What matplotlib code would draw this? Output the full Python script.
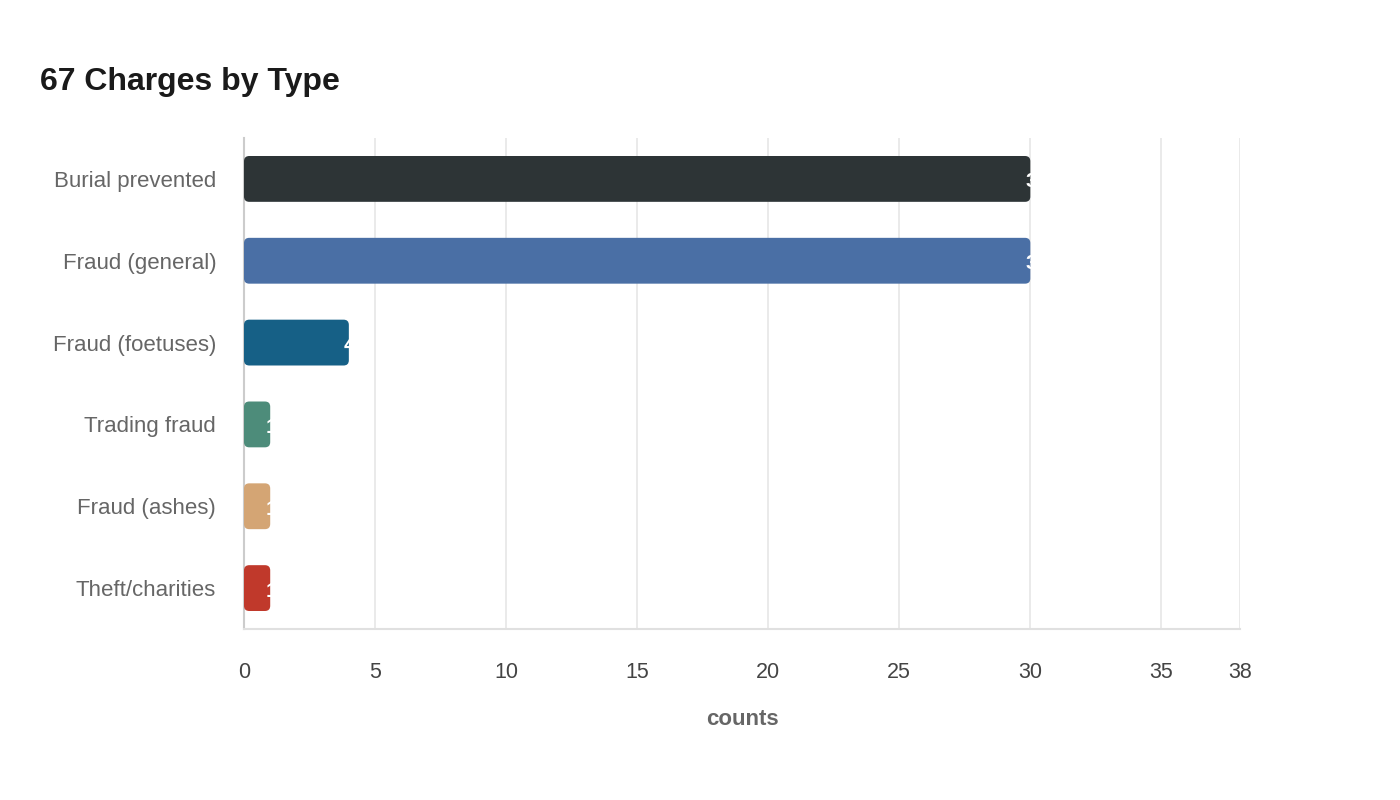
import matplotlib
matplotlib.use('Agg')
import matplotlib.pyplot as plt
from matplotlib.patches import FancyBboxPatch
import matplotlib.transforms as mtransforms

categories = ['Burial prevented', 'Fraud (general)', 'Fraud (foetuses)',
              'Trading fraud', 'Fraud (ashes)', 'Theft/charities']
counts = [30, 30, 4, 1, 1, 1]
colors = ['#2d3436', '#4a6fa5', '#166086', '#4d8c7a', '#d4a574', '#c0392b']
xticks = [0, 5, 10, 15, 20, 25, 30, 35, 38]

plt.rcParams['font.family'] = ['Liberation Sans', 'DejaVu Sans']

fig = plt.figure(figsize=(14, 8), dpi=100)
ax = fig.add_axes([244/1400, 1-629/800, (1240-244)/1400, (629-138)/800])

h = 0.56
for i, (v, c) in enumerate(zip(counts, colors)):
    p = FancyBboxPatch((0, i - h/2), v, h,
                       boxstyle='round,pad=0,rounding_size=0.2',
                       mutation_aspect=26.2/82, fc=c, ec='none', zorder=3)
    ax.add_patch(p)
    tr = mtransforms.offset_copy(ax.transData, fig=fig, x=-5, y=-3, units='dots')
    t = ax.text(v, i, str(v), transform=tr, ha='left', va='center',
                color='white', fontsize=15, fontweight='bold', zorder=4)
    t.set_clip_path(p)

ax.set_xlim(0, 38)
ax.set_ylim(5.5, -0.5)
ax.set_yticks(range(len(categories)))
ax.set_yticklabels(categories)
ax.set_xticks(xticks)
ax.tick_params(axis='y', length=0, pad=20, labelsize=16, labelcolor='#666666')
ax.tick_params(axis='x', length=0, pad=23.5, labelsize=15.5, labelcolor='#444444')
ax.grid(axis='x', color='#e6e6e6', lw=1.2, zorder=0)
ax.set_axisbelow(True)
for s in ['top', 'right']:
    ax.spines[s].set_visible(False)
ax.spines['left'].set_color('#cccccc')
ax.spines['left'].set_linewidth(1.5)
ax.spines['bottom'].set_color('#e0e0e0')
ax.spines['bottom'].set_linewidth(1.5)

ax.set_xlabel('counts', fontsize=16, fontweight='bold', color='#666666', labelpad=19)
fig.text(40/1400, 1-82/800, '67 Charges by Type', fontsize=23, fontweight='bold',
         color='#1a1a1a', va='center', ha='left')

fig.savefig('out.png', dpi=100, facecolor='white')
